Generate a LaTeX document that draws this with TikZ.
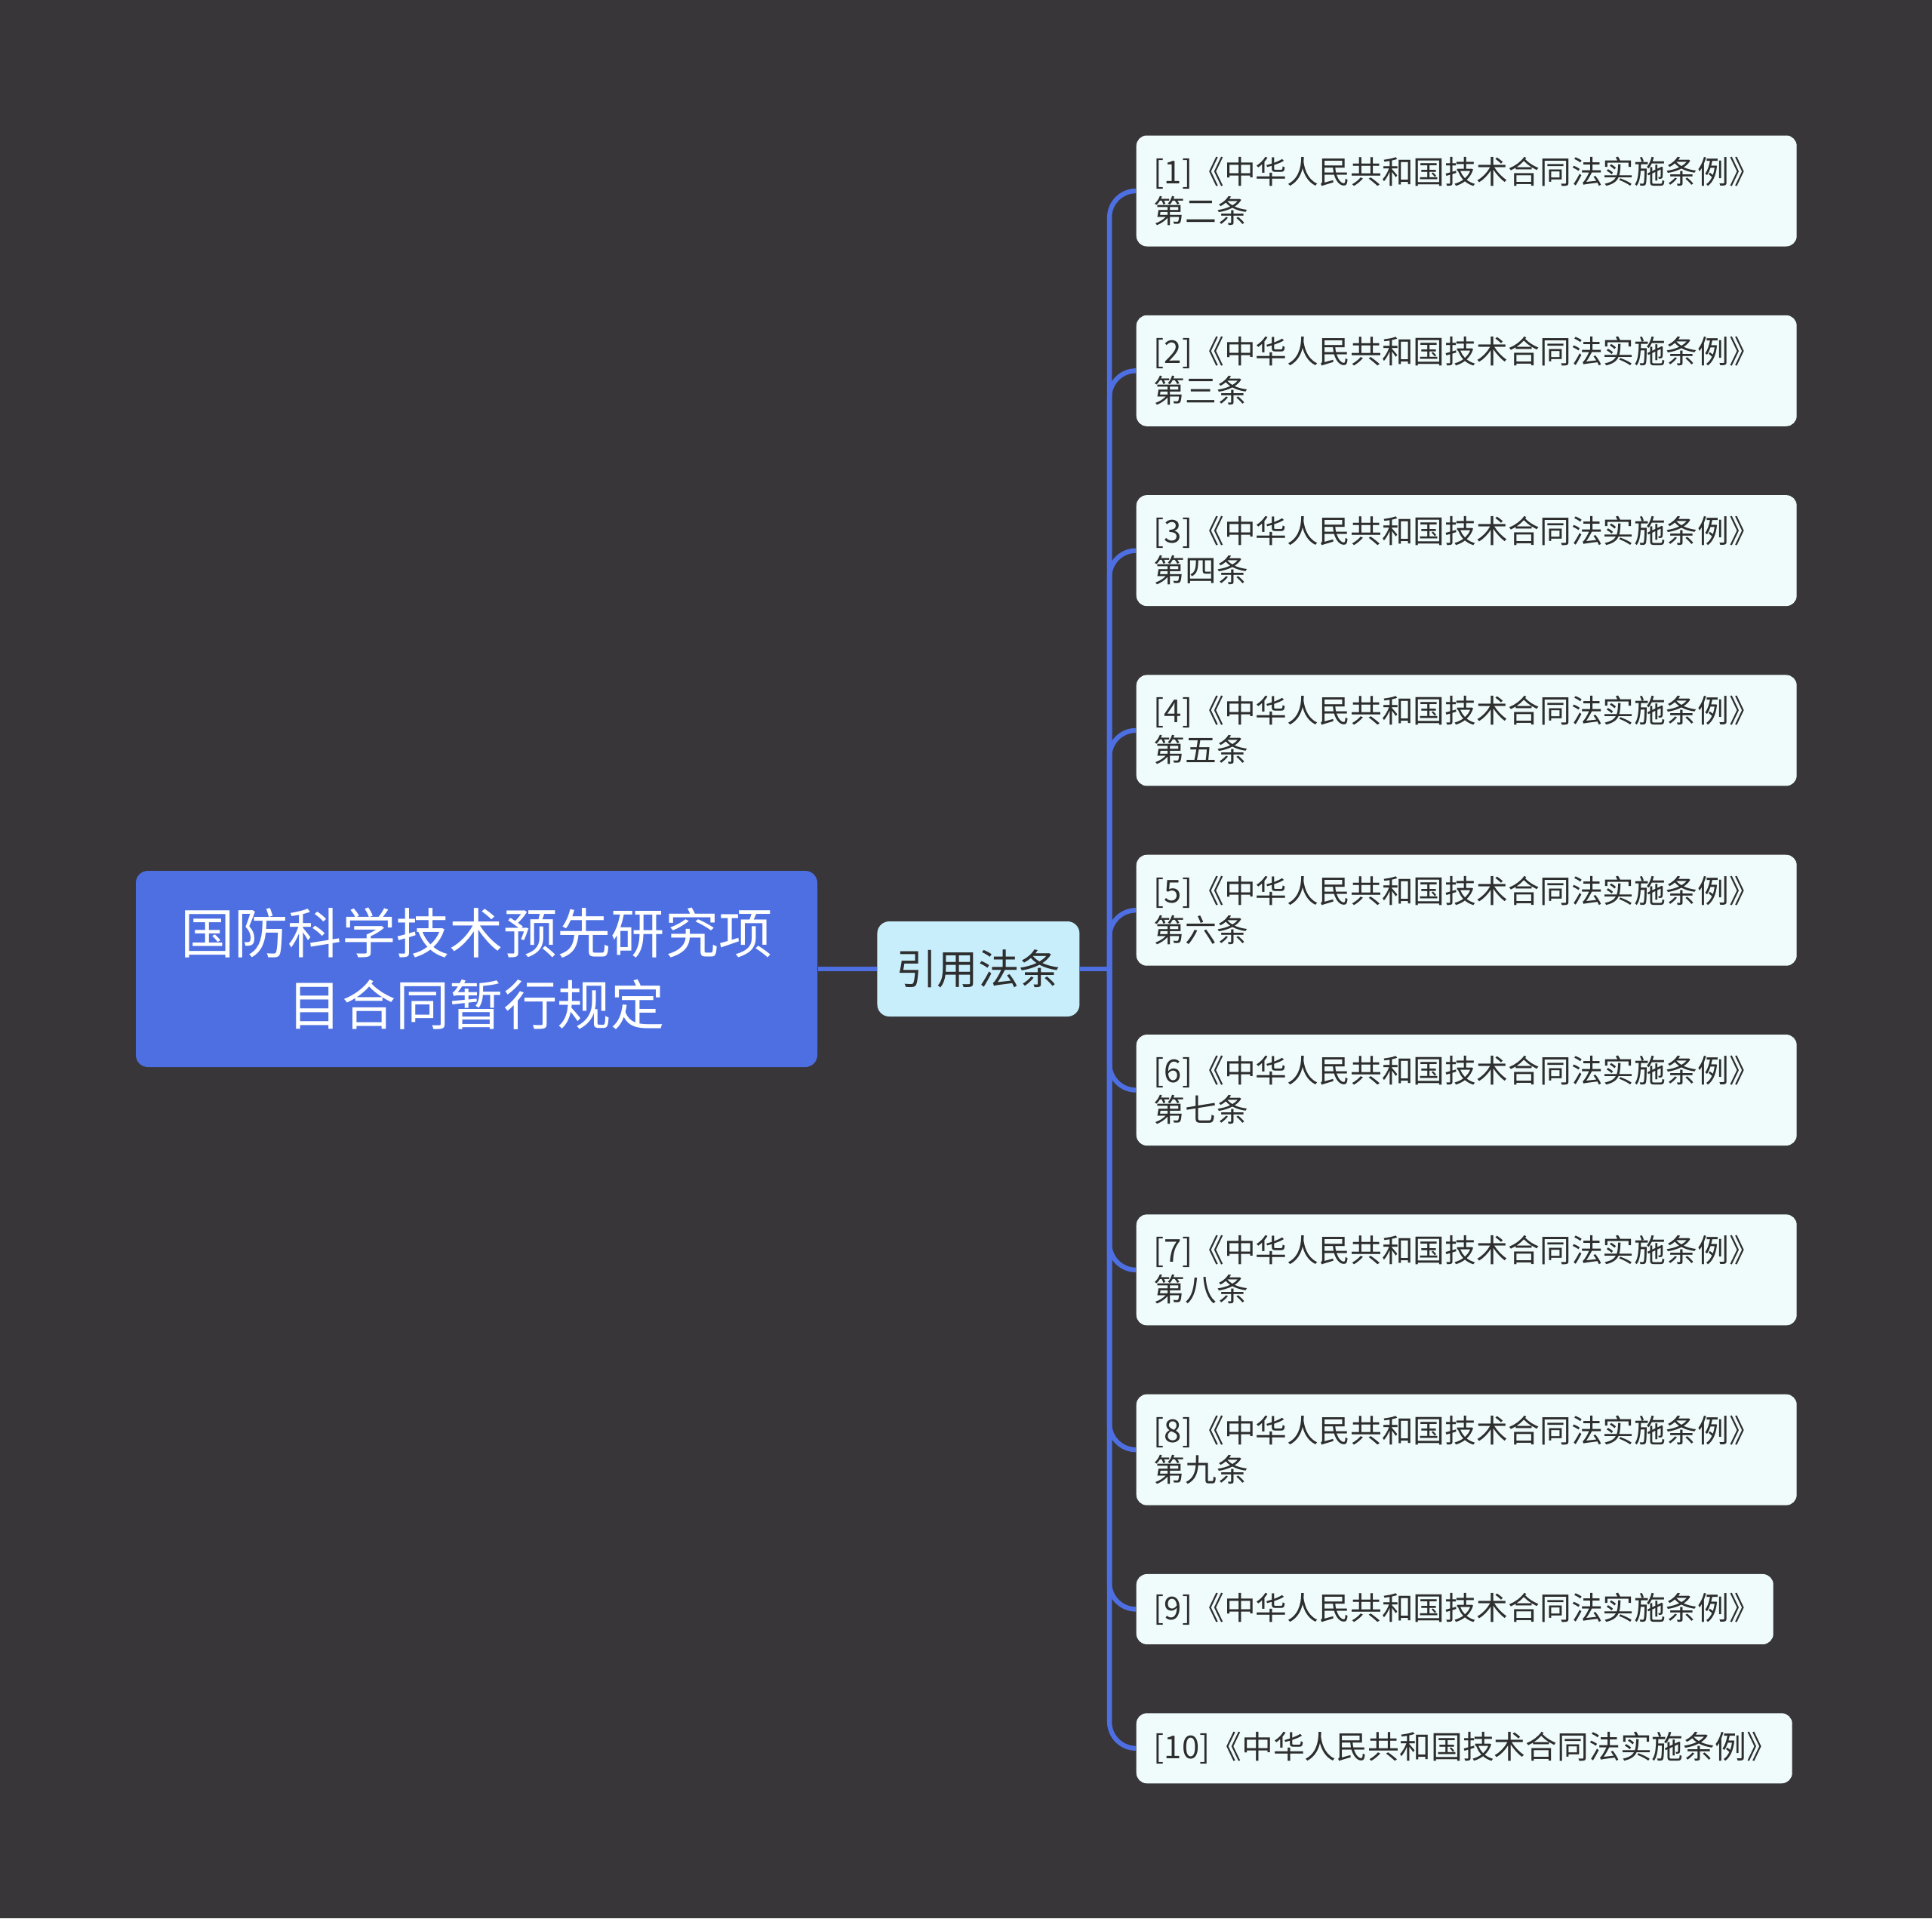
\documentclass[tikz,border=0pt]{standalone}
\usepackage{fontspec}
\newfontfamily\cjk{Noto Sans CJK SC}
\usepackage{xcolor}
\usepackage{tikz}
\usetikzlibrary{positioning, calc}

\definecolor{bgdark}{HTML}{383638}
\definecolor{rootblue}{HTML}{4D6FE2}
\definecolor{midcyan}{HTML}{C8EEFC}
\definecolor{leaffill}{HTML}{F0FCFC}
\definecolor{inkdark}{HTML}{2E2E2E}

\begin{document}
\begin{tikzpicture}[
  rootbox/.style={fill=rootblue, rounded corners=0.16cm, minimum width=9.03cm, minimum height=2.6cm, text=white, align=center, font=\cjk\fontsize{20.3pt}{27pt}\selectfont},
  midbox/.style={fill=midcyan, rounded corners=0.16cm, minimum width=2.68cm, minimum height=1.26cm, text=inkdark, font=\cjk\fontsize{15.5pt}{18pt}\selectfont},
  leafbox/.style={fill=leaffill, rounded corners=0.14cm, text width=8.29cm, inner xsep=0.23cm, minimum height=1.47cm, align=left, text=inkdark, font=\cjk\fontsize{11.9pt}{14.8pt}\selectfont},
  link/.style={draw=rootblue, line width=1.8pt, rounded corners=0.35cm}
]
\fill[bgdark] (0,0) rectangle (25.6,-25.42);
\useasboundingbox (0,0) rectangle (25.6,-25.42);

\node[rootbox] (root) at (6.315,-12.84) {国防科学技术预先研究项\\目合同暂行规定};
\node[midbox, right=0.78cm of root] (mid) {引用法条};
\coordinate (hub) at ($(mid.east)+(0.39,0)$);

\node[leafbox, anchor=west] (l1) at (15.05,-2.53) {[1]《中华人民共和国技术合同法实施条例》\\第二条};
\node[leafbox, below=0.899cm of l1.south west, anchor=north west] (l2) {[2]《中华人民共和国技术合同法实施条例》\\第三条};
\node[leafbox, below=0.899cm of l2.south west, anchor=north west] (l3) {[3]《中华人民共和国技术合同法实施条例》\\第四条};
\node[leafbox, below=0.899cm of l3.south west, anchor=north west] (l4) {[4]《中华人民共和国技术合同法实施条例》\\第五条};
\node[leafbox, below=0.899cm of l4.south west, anchor=north west] (l5) {[5]《中华人民共和国技术合同法实施条例》\\第六条};
\node[leafbox, below=0.899cm of l5.south west, anchor=north west] (l6) {[6]《中华人民共和国技术合同法实施条例》\\第七条};
\node[leafbox, below=0.899cm of l6.south west, anchor=north west] (l7) {[7]《中华人民共和国技术合同法实施条例》\\第八条};
\node[leafbox, below=0.899cm of l7.south west, anchor=north west] (l8) {[8]《中华人民共和国技术合同法实施条例》\\第九条};
\node[leafbox, text width=7.98cm, minimum height=0.93cm, below=0.899cm of l8.south west, anchor=north west] (l9) {[9]《中华人民共和国技术合同法实施条例》};
\node[leafbox, text width=8.23cm, minimum height=0.93cm, below=0.899cm of l9.south west, anchor=north west] (l10) {[10]《中华人民共和国技术合同法实施条例》};

\draw[link] (root) -- (mid);
\draw[link] (mid) -- (hub);
\foreach \i in {1,...,10}
  \draw[link] (hub) |- (l\i.west);
\end{tikzpicture}
\end{document}
